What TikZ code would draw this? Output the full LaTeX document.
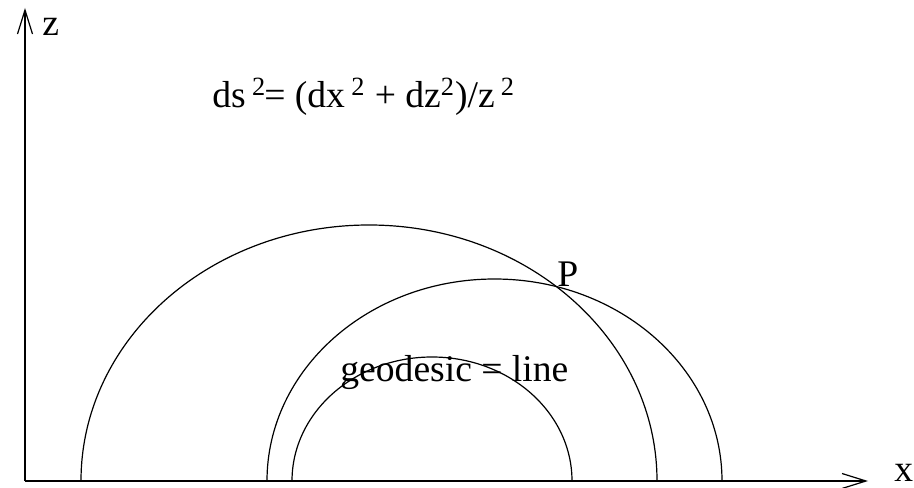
\documentclass[tikz,border=0pt]{standalone}
\usepackage{fontspec}
\setmainfont{Liberation Serif}
\usetikzlibrary{arrows.meta}

\begin{document}
\begin{tikzpicture}[
x=0.5pt, y=0.5pt,
axis/.style={-{Straight Barb[length=12pt, width=7.5pt]}, line width=0.6pt},
geo/.style={line width=0.6pt},
lbl/.style={inner sep=0pt, anchor=base west, font=\fontsize{18.8}{22}\selectfont}
]
\useasboundingbox (0,0) rectangle (914,487);
\coordinate (o) at (25,6);
\coordinate (zend) at (25,479);
\coordinate (xend) at (868,6);
\draw[axis] (o) -- (zend);
\draw[axis] (o) -- (xend);
\node[lbl] (zl) at (42,451) {z};
\node[lbl] (xl) at (894,6) {x};

\draw[geo] (81,6) arc[start angle=180, end angle=0, x radius=288, y radius=256];
\draw[geo] (267,6) arc[start angle=180, end angle=0, x radius=227.5, y radius=202];
\draw[geo] (292,6) arc[start angle=180, end angle=0, x radius=140, y radius=124];

\coordinate (p) at (557,200);
\node[lbl] (pl) at (p) {P};
\node[lbl] (metric) at (212,379) {ds\,\textsuperscript{2}\kern-1pt= (dx\,\textsuperscript{2} + dz\textsuperscript{2})/z\,\textsuperscript{2}};
\node[lbl] (geod) at (340,105) {geodesic = line};
\end{tikzpicture}
\end{document}
